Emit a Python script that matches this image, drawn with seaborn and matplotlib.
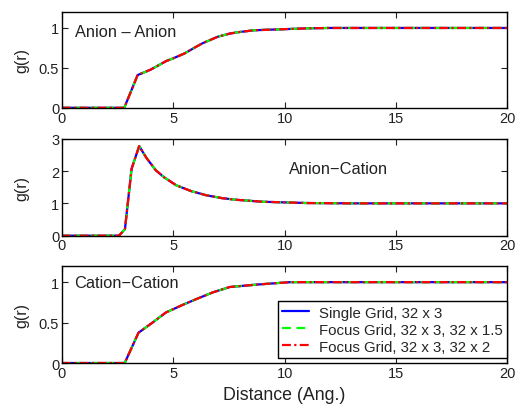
import seaborn as sns
import matplotlib
matplotlib.use("Agg")
import matplotlib.pyplot as plt
import pandas as pd
import numpy as np

sns.set_style("ticks")
plt.rcParams['font.family'] = ['Liberation Sans', 'DejaVu Sans']

# radial distribution functions
r_aa = [0, 1, 2, 2.5, 2.8, 3.4, 4.0, 4.68, 5.0, 5.5, 6.0, 6.33, 7.0, 7.54, 8.0, 8.6, 9.0,
        10, 11, 12, 13, 14, 15, 16, 17, 18, 19, 20]
g_aa = [0, 0, 0, 0, 0, 0.41, 0.48, 0.585, 0.62, 0.68, 0.76, 0.81, 0.89, 0.93, 0.95, 0.97, 0.975,
        0.985, 0.995, 1.0, 1.0, 1.0, 1.0, 1.0, 1.0, 1.0, 1.0, 1.0]

r_ac = [0, 1, 2, 2.56, 2.83, 3.13, 3.47, 3.8, 4.22, 4.6, 5.13, 5.8, 6.48, 7.2, 7.84, 9.0,
        10, 11, 12, 13, 14, 15, 16, 17, 18, 19, 20]
g_ac = [0, 0, 0, 0, 0.2, 2.07, 2.77, 2.4, 2.02, 1.8, 1.56, 1.38, 1.25, 1.16, 1.11, 1.05,
        1.03, 1.01, 1.005, 1.0, 1.0, 1.0, 1.0, 1.0, 1.0, 1.0, 1.0]

r_cc = [0, 1, 2, 2.5, 2.82, 3.44, 4.07, 4.67, 5.43, 6.03, 6.79, 7.54, 8.75, 10.25,
        11, 12, 13, 14, 15, 16, 17, 18, 19, 20]
g_cc = [0, 0, 0, 0, 0, 0.375, 0.5, 0.625, 0.72, 0.79, 0.875, 0.94, 0.97, 1.0,
        1.0, 1.0, 1.0, 1.0, 1.0, 1.0, 1.0, 1.0, 1.0, 1.0]

series = ["Single Grid, 32 x 3", "Focus Grid, 32 x 3, 32 x 1.5", "Focus Grid, 32 x 3, 32 x 2"]
colors = ["#0000ff", "#00ff00", "#ff0000"]
styles = ["-", (0, (4, 2.5)), (0, (4, 1.5, 1, 1.5))]

panels = [
    (r_aa, g_aa, "Anion \u2013 Anion", (0.6, 0.95), 1.2, [0, 0.5, 1], ["0", "0.5", "1"]),
    (r_ac, g_ac, "Anion\u2212Cation", (10.2, 2.07), 3, [0, 1, 2, 3], ["0", "1", "2", "3"]),
    (r_cc, g_cc, "Cation\u2212Cation", (0.53, 1.0), 1.2, [0, 0.5, 1], ["0", "0.5", "1"]),
]

fig = plt.figure(figsize=(5.16, 4.06), dpi=100)
boxes = [[0.120, 0.732, 0.863, 0.236],
         [0.120, 0.417, 0.863, 0.239],
         [0.120, 0.1034, 0.863, 0.239]]

for box, (r, g, label, pos, ymax, yt, ytl) in zip(boxes, panels):
    ax = fig.add_axes(box)
    for name, c, ls in zip(series, colors, styles):
        sns.lineplot(x=r, y=g, ax=ax, color=c, linestyle=ls, linewidth=1.6, label=name)
    ax.set_xlim(0, 20)
    ax.set_ylim(0, ymax)
    ax.set_xticks([0, 5, 10, 15, 20])
    ax.set_xticklabels(["0", "5", "10", "15", "20"])
    ax.set_yticks(yt)
    ax.set_yticklabels(ytl)
    ax.tick_params(direction="in", top=True, right=True, length=4, width=0.8,
                   labelsize=10.5, pad=2, colors="#222222")
    for s in ax.spines.values():
        s.set_color("black")
        s.set_linewidth(1.0)
    ax.set_ylabel("g(r)", fontsize=11.5, color="#222222")
    ax.yaxis.set_label_coords(-0.074, 0.5)
    ax.text(pos[0], pos[1], label, fontsize=11.8, va="center", ha="left", color="#222222")
    if ax.get_legend():
        ax.get_legend().remove()
    last = ax

last.set_xlabel("Distance (Ang.)", fontsize=12.8, labelpad=4.5, color="#222222")
leg = last.legend(loc="lower right", bbox_to_anchor=(1.0, 0.05), borderaxespad=0,
                  fontsize=10.8, handlelength=1.8, labelspacing=0.2, frameon=True,
                  fancybox=False, borderpad=0.3, handletextpad=0.65)
leg.get_frame().set_edgecolor("black")
leg.get_frame().set_linewidth(1.0)
leg.get_frame().set_alpha(1)

fig.savefig("out.png", dpi=100)
